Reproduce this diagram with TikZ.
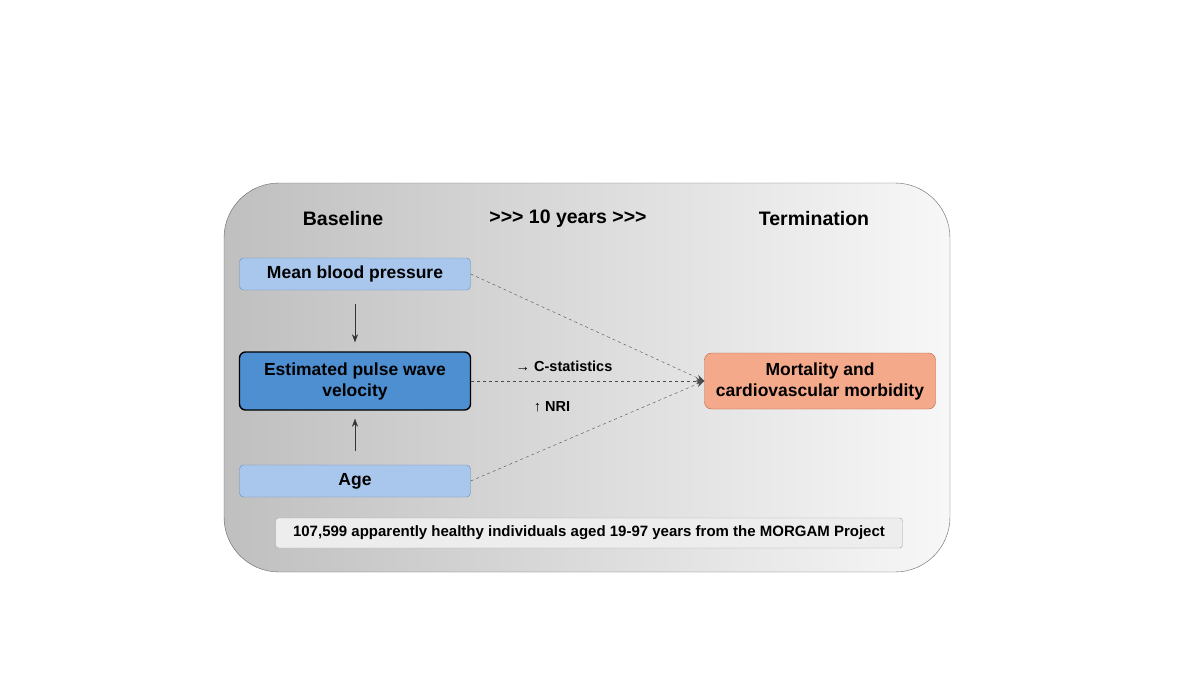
\documentclass[tikz,border=0pt]{standalone}
\usepackage{fontspec}
\setmainfont{Liberation Sans}
\usetikzlibrary{arrows.meta}
\definecolor{boxlight}{HTML}{A9C7EC}
\definecolor{boxedge}{HTML}{6A8DBA}
\definecolor{boxdark}{HTML}{4E8FD2}
\definecolor{outfill}{HTML}{F4A98A}
\definecolor{outedge}{HTML}{B9613E}

\begin{document}
\begin{tikzpicture}[x=1pt,y=-1pt,
  inbox/.style={draw=boxedge,fill=boxlight,rounded corners=4pt,minimum width=231pt,minimum height=32pt,font=\fontsize{17.5}{21}\bfseries\selectfont,align=center},
  mainbox/.style={draw=black,line width=1.4pt,fill=boxdark,rounded corners=6pt,minimum width=231pt,minimum height=58pt,font=\fontsize{17.5}{21}\bfseries\selectfont,align=center},
  head/.style={font=\fontsize{19.5}{23}\bfseries\selectfont},
  lbl/.style={font=\fontsize{14.5}{17}\bfseries\selectfont},
  dashline/.style={draw=black!70,dashed,-{Stealth[length=8pt,width=6pt]}},
  vert/.style={draw=black!80,-{Stealth[length=8pt,width=6pt]}}]

\useasboundingbox (0,0) rectangle (1200,675);

\shade[draw=black!60,rounded corners=55pt,shading=axis,shading angle=70,left color=black!25,right color=black!3]
  (224,183) rectangle (950,572);

\node[head] (base) at (343,219) {Baseline};
\node[head] (years) at (568,219) {>{}>{}> 10 years >{}>{}>};
\node[head] (term) at (814,219) {Termination};

\node[inbox] (mbp) at (355,274) {Mean blood pressure};
\node[mainbox] (epwv) at (355,381) {Estimated pulse wave\\velocity};
\node[inbox] (age) at (355,481) {Age};
\node[draw=outedge,fill=outfill,rounded corners=7pt,minimum width=231pt,minimum height=56pt,font=\fontsize{17.5}{21}\bfseries\selectfont,align=center] (out) at (820,381) {Mortality and\\cardiovascular morbidity};

\node[draw=black!35,fill=black!7,rounded corners=3pt,minimum width=627pt,minimum height=30pt,font=\fontsize{15}{17}\bfseries\selectfont] (foot) at (589,533) {107,599 apparently healthy individuals aged 19-97 years from the MORGAM Project};

\node[lbl] (cstat) at (564,366) {→ C-statistics};
\node[lbl] (nri) at (552,407) {↑ NRI};

\draw[vert,shorten <=14pt,shorten >=9pt] (mbp) -- (epwv);
\draw[vert,shorten <=14pt,shorten >=8pt] (age) -- (epwv);

\draw[dashline] (mbp.east) -- (out.west);
\draw[dashline] (epwv.east) -- (out.west);
\draw[dashline] (age.east) -- (out.west);

\end{tikzpicture}
\end{document}
